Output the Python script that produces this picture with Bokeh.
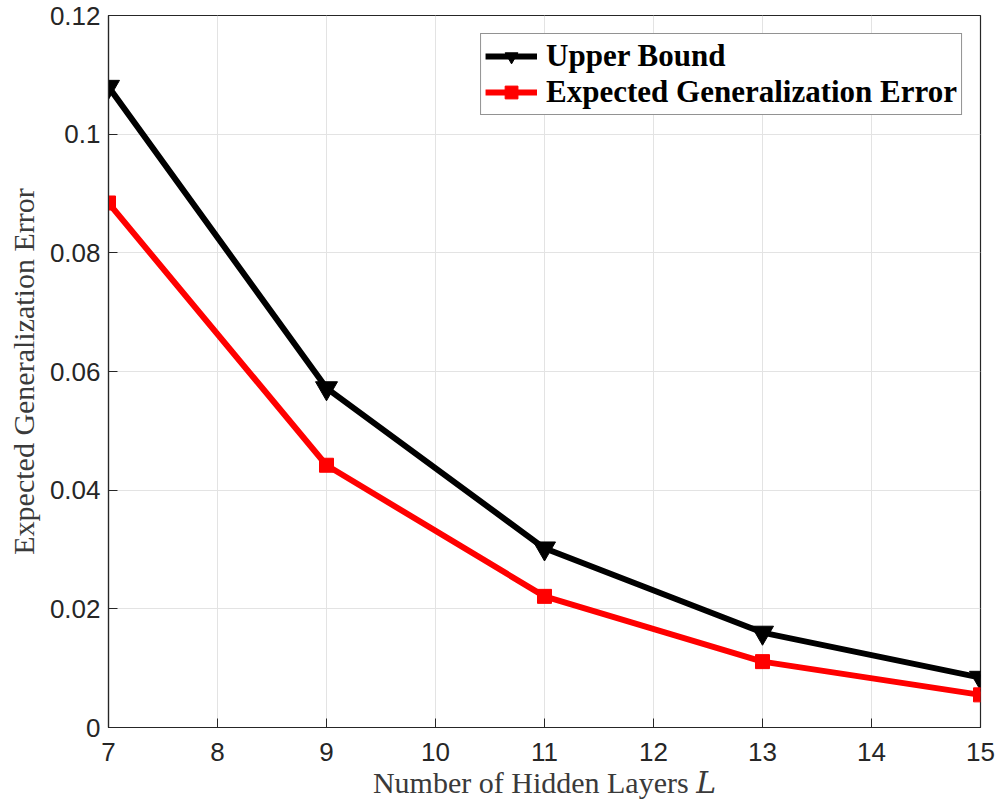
from bokeh.plotting import figure
from bokeh.models import Range1d, FixedTicker, Legend, LegendItem
from bokeh.embed import file_html
from bokeh.resources import INLINE

# Number of hidden layers
layers = [7, 9, 11, 13, 15]
# Theoretical upper bound on the generalization error
upper_bound = [0.1080, 0.0572, 0.0302, 0.0160, 0.0084]
# Measured expected generalization error
expected_error = [0.0884, 0.0442, 0.0221, 0.0111, 0.0055]

y_ticks = [0, 0.02, 0.04, 0.06, 0.08, 0.1, 0.12]
y_tick_labels = ["0", "0.02", "0.04", "0.06", "0.08", "0.1", "0.12"]
x_ticks = [7, 8, 9, 10, 11, 12, 13, 14, 15]

AX = "#262626"
LABEL_COLOR = "#3a3a3a"

p = figure(width=996, height=802, output_backend="svg", toolbar_location=None,
           x_range=Range1d(7, 15), y_range=Range1d(0, 0.12),
           min_border_left=108, min_border_right=16, min_border_top=15, min_border_bottom=75)

p.outline_line_color = AX
p.outline_line_width = 1.2

p.xaxis.ticker = FixedTicker(ticks=x_ticks)
p.yaxis.ticker = FixedTicker(ticks=y_ticks)
p.yaxis.major_label_overrides = {t: s for t, s in zip(y_ticks, y_tick_labels)}

for ax in (p.xaxis[0], p.yaxis[0]):
    ax.axis_line_color = AX
    ax.axis_line_width = 1.2
    ax.major_tick_line_color = AX
    ax.major_tick_in = 9
    ax.major_tick_out = 0
    ax.minor_tick_line_color = None
    ax.major_label_text_font = "Liberation Sans"
    ax.major_label_text_font_size = "26px"
    ax.major_label_text_color = AX
    ax.axis_label_text_font = "Liberation Serif, DejaVu Serif"
    ax.axis_label_text_font_style = "normal"
    ax.axis_label_text_font_size = "30px"
    ax.axis_label_text_color = LABEL_COLOR

p.xaxis.major_label_standoff = 15
p.yaxis.major_label_standoff = 8
p.xaxis.axis_label = "Number of Hidden Layers \U0001D43F"
p.xaxis.axis_label_standoff = 2
p.yaxis.axis_label = "Expected Generalization Error"
p.yaxis.axis_label_standoff = 7

p.xgrid.grid_line_color = "#e3e3e3"
p.ygrid.grid_line_color = "#e3e3e3"
p.xgrid.grid_line_width = 1
p.ygrid.grid_line_width = 1

l1 = p.line(layers, upper_bound, line_color="black", line_width=6)
m1 = p.scatter(layers, upper_bound, marker="inverted_triangle", size=22,
               fill_color="black", line_color="black")
l2 = p.line(layers, expected_error, line_color="#ff0000", line_width=6)
m2 = p.scatter(layers, expected_error, marker="square", size=14,
               fill_color="#ff0000", line_color="#ff0000")

legend = Legend(items=[
    LegendItem(label="Upper Bound", renderers=[l1, m1]),
    LegendItem(label="Expected Generalization Error", renderers=[l2, m2]),
], location="top_right")
legend.label_text_font = "Liberation Serif"
legend.label_text_font_style = "bold"
legend.label_text_font_size = "31px"
legend.label_text_color = "black"
legend.glyph_width = 52
legend.glyph_height = 32
legend.label_standoff = 9
legend.spacing = 0
legend.padding = 4
legend.margin = 18
legend.border_line_color = AX
legend.border_line_width = 1.2
legend.background_fill_alpha = 1
p.add_layout(legend)

open("out.html", "w").write(file_html(p, INLINE))
